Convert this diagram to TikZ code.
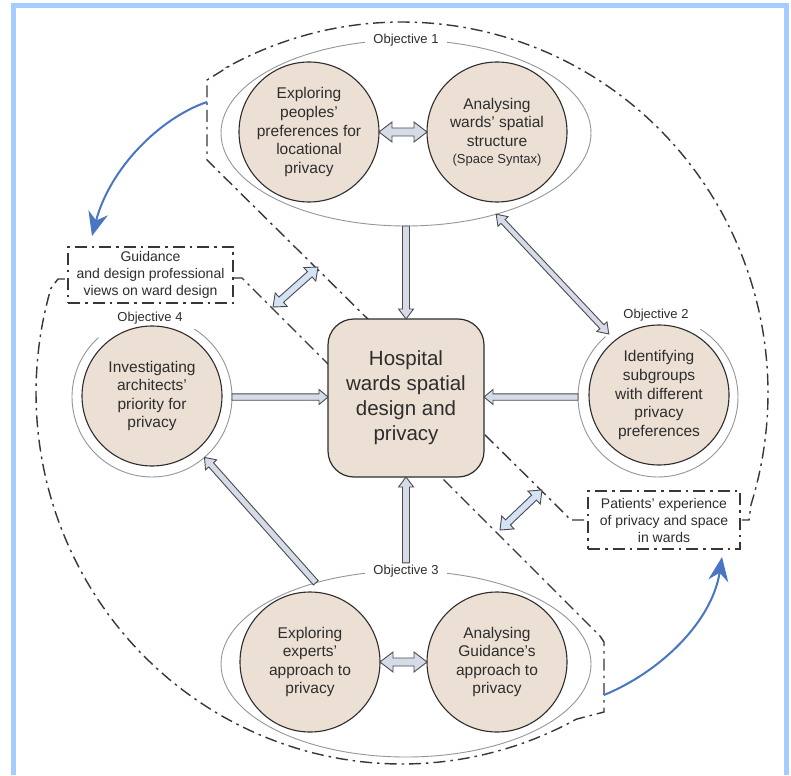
\documentclass[tikz,border=0pt]{standalone}
\usepackage{fontspec}
\setmainfont{Liberation Sans}
\usetikzlibrary{calc,shapes.geometric,arrows.meta}

\definecolor{ink}{RGB}{45,45,45}
\definecolor{beige}{RGB}{236,224,212}
\definecolor{ringgray}{RGB}{150,150,150}
\definecolor{dashgray}{RGB}{55,55,55}
\definecolor{arrowfill}{RGB}{214,219,232}
\definecolor{bandfill}{RGB}{212,226,246}
\definecolor{arrowline}{RGB}{75,75,80}
\definecolor{flowblue}{RGB}{72,118,196}
\definecolor{framebl}{RGB}{164,204,255}

% hollow block arrow from #2 to #3; #4 shaft half width, #5 head half width, #6 head length
\newcommand\oneway[6][]{%
  \filldraw[hollowarrow,#1]
    ($(#2)!#4!90:(#3)$) -- ($(#3)!#6!(#2)!#4!90:(#3)$) -- ($(#3)!#6!(#2)!#5!90:(#3)$)
    -- (#3) -- ($(#3)!#6!(#2)!#5!-90:(#3)$) -- ($(#3)!#6!(#2)!#4!-90:(#3)$)
    -- ($(#2)!#4!-90:(#3)$) -- cycle;}
% hollow block arrow with heads at both ends
\newcommand\twoway[6][]{%
  \filldraw[hollowarrow,#1]
    (#2) -- ($(#2)!#6!(#3)!#5!-90:(#2)$) -- ($(#2)!#6!(#3)!#4!-90:(#2)$)
    -- ($(#3)!#6!(#2)!#4!90:(#3)$) -- ($(#3)!#6!(#2)!#5!90:(#3)$)
    -- (#3) -- ($(#3)!#6!(#2)!#5!-90:(#3)$) -- ($(#3)!#6!(#2)!#4!-90:(#3)$)
    -- ($(#2)!#6!(#3)!#4!90:(#2)$) -- ($(#2)!#6!(#3)!#5!90:(#2)$) -- cycle;}

\tikzset{
  every node/.style={text=ink, inner sep=0pt, outer sep=0pt},
  topic/.style={circle, draw=ink, line width=1.1pt, fill=beige, minimum size=140pt,
    align=center, font=\fontsize{15.5}{18.6}\selectfont},
  hubbox/.style={rectangle, rounded corners=26pt, draw=ink, line width=1.2pt, fill=beige,
    minimum width=156pt, minimum height=158pt, align=center,
    font=\fontsize{20.5}{25}\selectfont},
  objring/.style={ellipse, draw=ringgray, line width=0.9pt,
    minimum width=370pt, minimum height=186pt},
  ringspot/.style={circle, minimum size=160pt},
  ringline/.style={draw=ringgray, line width=0.9pt},
  objlabel/.style={fill=white, inner xsep=8pt, inner ysep=2pt,
    font=\fontsize{13}{15}\selectfont},
  boundary/.style={draw=dashgray, line width=1.4pt,
    dash pattern=on 12pt off 5pt on 2.5pt off 5pt},
  sourcebox/.style={boundary, fill=white, align=center,
    font=\fontsize{14}{17}\selectfont},
  hollowarrow/.style={draw=arrowline, line width=0.9pt, fill=arrowfill, line join=miter},
  flow/.style={draw=flowblue, line width=2pt,
    -{Stealth[length=24pt,width=20pt,inset=8pt]}}
}

\begin{document}
\begin{tikzpicture}[x=1pt,y=-1pt]
\useasboundingbox[fill=white] (0,0) rectangle (791,775);

% page frame
\draw[framebl, line width=5pt] (13,775) -- (13,6) -- (786,6) -- (786,775);

% patient-side boundary (objectives 1 and 2)
\draw[boundary] (584,520) -- (570,520) -- (567,516) -- (207,160) -- (207,80) -- (228,67)
  -- plot[domain=-118.5:17.5, samples=90] ({402+366*cos(\x)},{393+371*sin(\x)})
  -- (749,520) -- (742,520);
% design-side boundary (objectives 3 and 4)
\draw[boundary] (233,278) -- (242,278) -- (600,636) -- (604,642) -- (604,712) -- (577,719)
  -- plot[domain=61.5:196.4, samples=90] ({402+366*cos(\x)},{393+371*sin(\x)})
  -- (58,279) -- (68,279);

% data sources
\node[sourcebox, minimum width=165pt, minimum height=56pt] (guide) at (150.5,275)
  {Guidance\\and design professional\\views on ward design};
\node[sourcebox, minimum width=152pt, minimum height=58pt] (patients) at (664,520)
  {Patients' experience\\of privacy and space\\in wards};

% objective 1
\node[objring] (obj1) at (406,133) {};
\node[topic] (o1a) at (309,132) {Exploring\\peoples'\\preferences for\\locational\\privacy};
\node[topic] (o1b) at (497,132) {Analysing\\wards' spatial\\structure\\[-2pt]{\fontsize{13}{15}\selectfont(Space Syntax)}};
\node[objlabel] (lab1) at (406,40) {Objective 1};

% objective 3
\node[objring] (obj3) at (406,664) {};
\node[topic] (o3a) at (310,662) {Exploring\\experts'\\approach to\\privacy};
\node[topic] (o3b) at (497,662) {Analysing\\Guidance's\\approach to\\privacy};
\node[objlabel] (lab3) at (406,571) {Objective 3};

% objective 4
\node[ringspot] (obj4) at (152,397) {};
\draw[ringline] plot[domain=-58:228, samples=80] ({152+80*cos(\x)},{397+80*sin(\x)});
\node[topic] (o4) at (152,396) {Investigating\\architects'\\priority for\\privacy};
\node[objlabel, fill=none] (lab4) at (150,318) {Objective 4};

% objective 2
\node[ringspot] (obj2) at (658,397) {};
\draw[ringline] plot[domain=-58:229, samples=80] ({658+80*cos(\x)},{397+80*sin(\x)});
\node[topic] (o2) at (659,395) {Identifying\\subgroups\\with different\\privacy\\preferences};
\node[objlabel, fill=none] (lab2) at (656,315) {Objective 2};

% central theme
\node[hubbox] (hub) at (406,398) {Hospital\\wards spatial\\design and\\privacy};

% links into the central theme
\coordinate (h4) at (obj4.east -| hub.west);
\coordinate (h2) at (obj2.west -| hub.east);
\oneway{obj1.south}{hub.north}{3.5pt}{7.5pt}{10pt}
\oneway{lab3.north}{hub.south}{3.5pt}{7.5pt}{10pt}
\oneway{obj4.east}{h4}{3.2pt}{7.5pt}{9pt}
\oneway{obj2.west}{h2}{3.2pt}{7.5pt}{9pt}
\oneway{obj3.138}{obj4.-49}{3.2pt}{7.5pt}{10pt}

% links between studies
\twoway{o1a.east}{o1b.west}{4pt}{10pt}{13pt}
\twoway{o3a.east}{o3b.west}{4pt}{10pt}{13pt}
\twoway{obj1.-42}{obj2.128}{2.8pt}{7pt}{10pt}

% exchanges across the boundary band
\coordinate (g1) at (273,307);
\coordinate (g2) at (318,267);
\coordinate (g3) at (500,530);
\coordinate (g4) at (542,490);
\twoway[fill=bandfill]{g1}{g2}{3.5pt}{9pt}{11pt}
\twoway[fill=bandfill]{g3}{g4}{3.5pt}{9pt}{11pt}

% feedback flows
\coordinate (f1s) at (207,102);
\coordinate (f1e) at (92,236);
\coordinate (f2s) at (604,695);
\coordinate (f2e) at (722,557);
\draw[flow] (f1s) .. controls (160,118) and (110,168) .. (f1e);
\draw[flow] (f2s) .. controls (660,672) and (712,622) .. (f2e);
\end{tikzpicture}
\end{document}
